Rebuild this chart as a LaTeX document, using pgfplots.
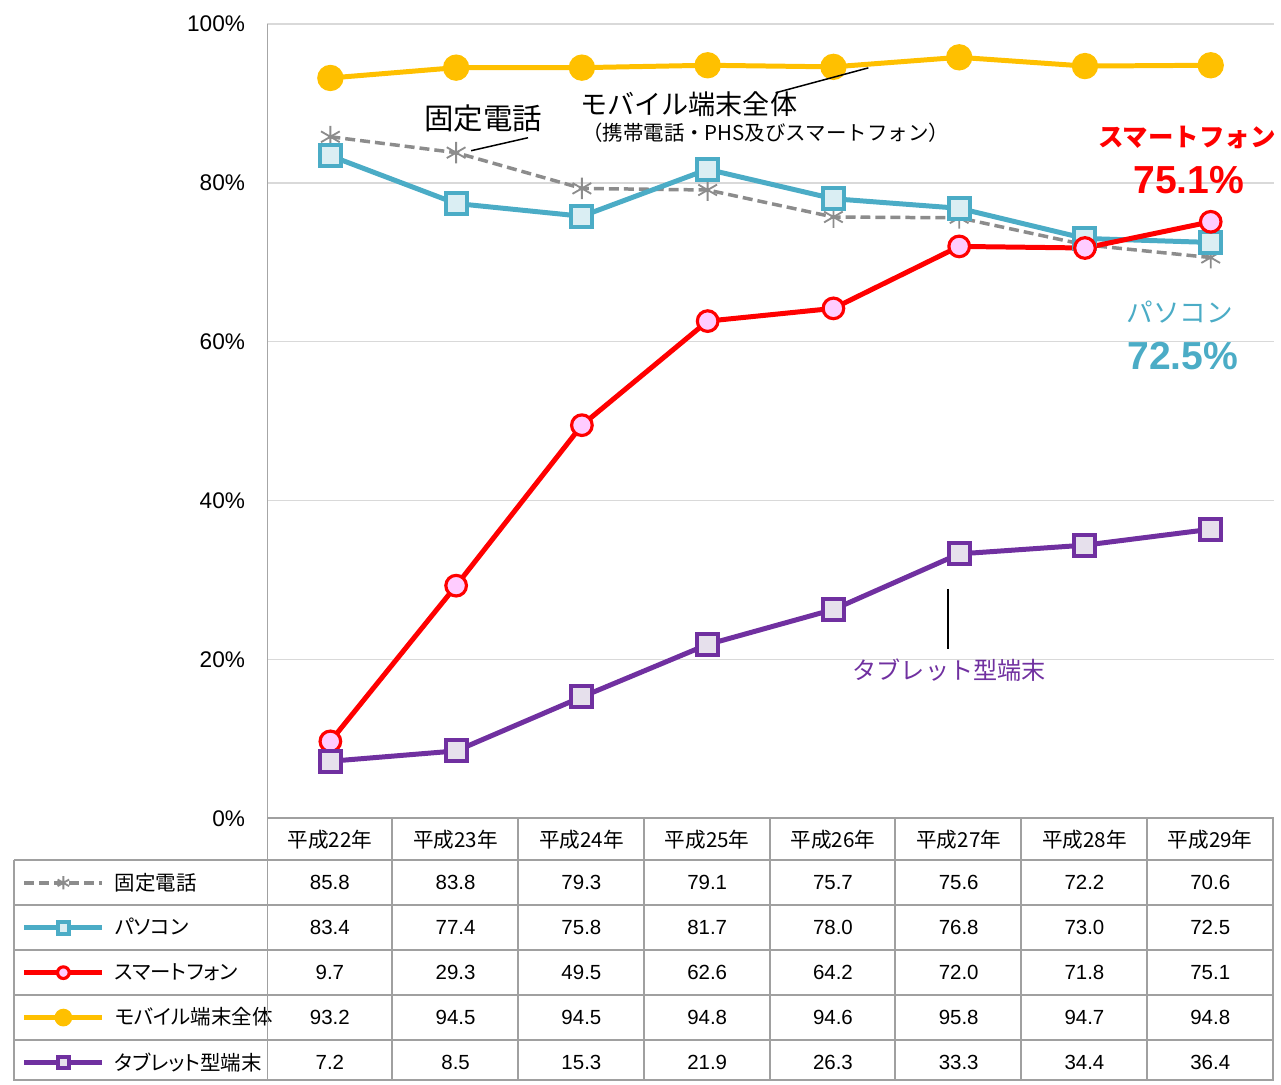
\documentclass[border=0pt]{standalone}
\usepackage{pgfplots}
\pgfplotsset{compat=1.18}
\usepackage{pgfplotstable}
\usepackage{fontspec}
\setmainfont{Liberation Sans}
\newfontfamily\jp{Noto Sans CJK JP}
\newfontfamily\jpp[RawFeature=+palt]{Noto Sans CJK JP}
\definecolor{cgray}{HTML}{8C8C8C}
\definecolor{cteal}{HTML}{4BACC6}
\definecolor{ctealfill}{HTML}{DAEEF3}
\definecolor{cred}{HTML}{FF0000}
\definecolor{credfill}{HTML}{FFCCFF}
\definecolor{cgold}{HTML}{FFC000}
\definecolor{cpurple}{HTML}{7030A0}
\definecolor{cpurplefill}{HTML}{E6E0EC}
\definecolor{cgrid}{HTML}{D9D9D9}
\definecolor{cline}{HTML}{A6A6A6}
\definecolor{ctab}{HTML}{A0A0A0}

\pgfplotstableread{
x fixed pc smart mobile tablet
0.5 85.8 83.4 9.7 93.2 7.2
1.5 83.8 77.4 29.3 94.5 8.5
2.5 79.3 75.8 49.5 94.5 15.3
3.5 79.1 81.7 62.6 94.8 21.9
4.5 75.7 78.0 64.2 94.6 26.3
5.5 75.6 76.8 72.0 95.8 33.3
6.5 72.2 73.0 71.8 94.7 34.4
7.5 70.6 72.5 75.1 94.8 36.4
}\data

\begin{document}
\begin{tikzpicture}
\begin{scope}[x=0.6pt,y=-0.6pt]
\useasboundingbox (0,0) rectangle (1281,1083);
\end{scope}
\begin{axis}[
  at={(160.8pt,-492pt)}, anchor=south west,
  scale only axis, width=604.8pt, height=477.6pt,
  xmin=0, xmax=8, ymin=0, ymax=100,
  xtick=\empty, ytick={0,20,...,100},
  yticklabel={\pgfmathprintnumber{\tick}\%},
  /pgf/number format/assume math mode=true,
  yticklabel style={font=\fontsize{13.6}{15}\selectfont, xshift=-10pt},
  ytick style={draw=none},
  axis line style={draw=none},
  ymajorgrids, major grid style={cgrid, line width=0.8pt},
  clip=false,
  legend cell align=left,
  legend image code/.code={\draw[mark repeat=2,mark phase=2,#1] plot coordinates {(0pt,0pt)(23.4pt,0pt)(46.8pt,0pt)};},
  legend style={draw=none, fill=none, at={(-0.24405,-0.05276)}, anchor=north west,
    inner sep=0pt, outer sep=0pt, row sep=0pt,
    nodes={inner ysep=0pt, inner xsep=6pt, minimum height=27pt},
    font=\jpp\fontsize{12.3}{14}\selectfont},
]
\addplot[cgray, line width=2.1pt, dash pattern=on 6pt off 3pt, mark=asterisk, mark size=6.5pt,
  mark options={solid, line width=1.1pt}, legend image post style={mark size=4pt}]
  table[x=x,y=fixed]{\data};
\addlegendentry{固定電話}
\addplot[cteal, line width=3pt, mark=square*, mark size=6.3pt,
  mark options={fill=ctealfill, line width=2.4pt}, legend image post style={mark size=3.5pt}]
  table[x=x,y=pc]{\data};
\addlegendentry{パソコン}
\addplot[cred, line width=3pt, mark=*, mark size=6.2pt,
  mark options={fill=credfill, line width=1.9pt}, legend image post style={mark size=3.5pt}]
  table[x=x,y=smart]{\data};
\addlegendentry{スマートフォン}
\addplot[cgold, line width=3pt, mark=*, mark size=6.4pt,
  mark options={fill=cgold}, legend image post style={mark size=3.8pt}]
  table[x=x,y=mobile]{\data};
\addlegendentry{モバイル端末全体}
\addplot[cpurple, line width=3pt, mark=square*, mark size=6.3pt,
  mark options={fill=cpurplefill, line width=2.4pt}, legend image post style={mark size=3.5pt}]
  table[x=x,y=tablet]{\data};
\addlegendentry{タブレット型端末}
\end{axis}
\begin{scope}[x=0.6pt,y=-0.6pt]
% axis line
\draw[cline, line width=0.9pt] (268,24) -- (268,820);
% annotations
\draw[black, line width=0.9pt] (472,151) -- (529,138);
\draw[black, line width=0.9pt] (777,93) -- (870,68);
\draw[black, line width=0.9pt] (950,590) -- (950,650);
\node[font=\jp\fontsize{17.7}{20}\selectfont] at (484,119) {固定電話};
\node[font=\jp\fontsize{16.3}{19}\selectfont] at (690,104) {モバイル端末全体};
\node[font=\jp\fontsize{12.3}{14}\selectfont] at (767,133) {（携帯電話・PHS及びスマートフォン）};
\node[font=\jp\bfseries\fontsize{15.3}{18}\selectfont, text=cred] at (1189,138) {スマートフォン};
\node[font=\bfseries\fontsize{23.5}{26}\selectfont, text=cred] at (1191,180) {75.1\%};
\node[font=\jp\fontsize{16}{19}\selectfont, text=cteal] at (1182,313) {パソコン};
\node[font=\bfseries\fontsize{23.5}{26}\selectfont, text=cteal] at (1185,357) {72.5\%};
\node[font=\jp\fontsize{14.5}{17}\selectfont, text=cpurple] at (951,671) {タブレット型端末};
% table grid
\draw[ctab, line width=1.2pt] (268,820) -- (1276,820);
\foreach \yy in {862,907,952,997,1042,1082} \draw[ctab, line width=1.2pt] (14,\yy) -- (1276,\yy);
\draw[ctab, line width=1.2pt] (14,862) -- (14,1083);
\draw[ctab, line width=1.2pt] (268,820) -- (268,1083);
\foreach \k in {1,...,8} \draw[ctab, line width=1.2pt] ({267+126*\k},820) -- ({267+126*\k},1083);
% headers
\foreach \k/\yr in {0/22,1/23,2/24,3/25,4/26,5/27,6/28,7/29}
  \node[font=\jp\fontsize{12.4}{14}\selectfont] at ({330.5+126*\k},841) {平成\yr 年};
% values
\foreach \row/\vals in {0/{85.8,83.8,79.3,79.1,75.7,75.6,72.2,70.6},
                        1/{83.4,77.4,75.8,81.7,78.0,76.8,73.0,72.5},
                        2/{9.7,29.3,49.5,62.6,64.2,72.0,71.8,75.1},
                        3/{93.2,94.5,94.5,94.8,94.6,95.8,94.7,94.8},
                        4/{7.2,8.5,15.3,21.9,26.3,33.3,34.4,36.4}}{
  \foreach \v [count=\c from 0] in \vals
    \node[font=\fontsize{12.3}{14}\selectfont] at ({330.5+126*\c},{884.5+45*\row}) {\v};
}
\end{scope}
\end{tikzpicture}
\end{document}
